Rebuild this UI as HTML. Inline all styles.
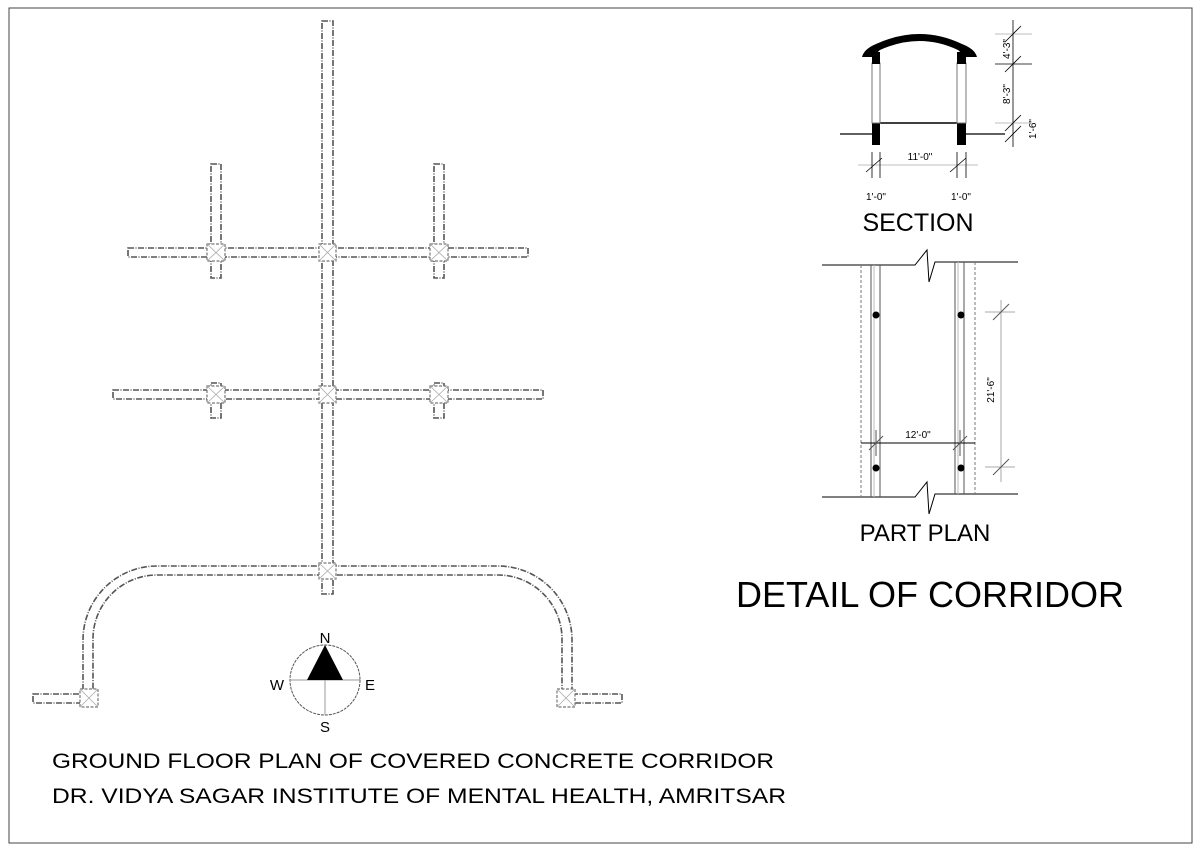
<!DOCTYPE html>
<html><head><meta charset="utf-8"><style>
html,body{margin:0;padding:0;background:#fff;}
svg{display:block;}
text{font-family:"Liberation Sans",sans-serif;fill:#000;}
</style></head><body>
<svg width="1200" height="851" viewBox="0 0 1200 851" xmlns="http://www.w3.org/2000/svg">
<rect x="9" y="8" width="1183" height="835" fill="none" stroke="#444" stroke-width="1"/>
<g fill="#fff" stroke="#555" stroke-width="1.6" stroke-dasharray="6 1.5 1 1.5">
  <rect x="322" y="21" width="11" height="573"/>
  <rect x="128" y="248" width="400" height="9"/>
  <rect x="211" y="164" width="10" height="114"/>
  <rect x="434" y="164" width="10" height="114"/>
  <rect x="113" y="390" width="430" height="9"/>
  <rect x="211" y="383" width="10" height="35"/>
  <rect x="434" y="383" width="10" height="35"/>
  <path d="M83 690 V640 A74 74 0 0 1 157 566 H498 A74 74 0 0 1 572 640 V690 H562 V640 A64 64 0 0 0 498 575 H157 A64 64 0 0 0 93 640 V690 Z"/>
  <rect x="33" y="694" width="50" height="9"/>
  <rect x="572" y="694" width="50" height="9"/>
</g>
<g fill="#fff" stroke="#777" stroke-width="1.2" stroke-dasharray="3 1.5">
  <rect x="207" y="244" width="18" height="17"/>
  <rect x="319" y="244" width="17" height="17"/>
  <rect x="430" y="244" width="18" height="17"/>
  <rect x="207" y="386" width="18" height="17"/>
  <rect x="319" y="386" width="17" height="17"/>
  <rect x="430" y="386" width="18" height="17"/>
  <rect x="319" y="563" width="17" height="16"/>
  <rect x="80" y="689" width="18" height="18"/>
  <rect x="557" y="689" width="18" height="18"/>
</g>
<g stroke="#aaa" stroke-width="0.8">
  <path d="M207 244 L225 261 M225 244 L207 261"/>
  <path d="M319 244 L336 261 M336 244 L319 261"/>
  <path d="M430 244 L448 261 M448 244 L430 261"/>
  <path d="M207 386 L225 403 M225 386 L207 403"/>
  <path d="M319 386 L336 403 M336 386 L319 403"/>
  <path d="M430 386 L448 403 M448 386 L430 403"/>
  <path d="M319 563 L336 579 M336 563 L319 579"/>
  <path d="M80 689 L98 707 M98 689 L80 707"/>
  <path d="M557 689 L575 707 M575 689 L557 707"/>
</g>
<circle cx="325" cy="680" r="35" fill="none" stroke="#555" stroke-width="1" stroke-dasharray="3 1"/>
<line x1="290" y1="680" x2="360" y2="680" stroke="#999"/>
<line x1="325" y1="680" x2="325" y2="715" stroke="#999"/>
<polygon points="325,645 307,680 343,680" fill="#000"/>
<text x="325" y="643" font-size="15" text-anchor="middle">N</text>
<text x="277" y="690" font-size="15" text-anchor="middle">W</text>
<text x="370" y="690" font-size="15" text-anchor="middle">E</text>
<text x="325" y="732" font-size="15" text-anchor="middle">S</text>
<text x="52" y="768" font-size="21" textLength="722" lengthAdjust="spacingAndGlyphs">GROUND FLOOR PLAN OF COVERED CONCRETE CORRIDOR</text>
<text x="52" y="803" font-size="21" textLength="734" lengthAdjust="spacingAndGlyphs">DR. VIDYA SAGAR INSTITUTE OF MENTAL HEALTH, AMRITSAR</text>

<g>
  <line x1="840" y1="134" x2="872" y2="134" stroke="#000" stroke-width="1.2"/>
  <line x1="966" y1="134" x2="1005" y2="134" stroke="#000" stroke-width="1.2"/>
  <line x1="880" y1="123" x2="957" y2="123" stroke="#000" stroke-width="1.5"/>
  <rect x="872" y="123" width="8" height="22" fill="#000"/>
  <rect x="957" y="123" width="9" height="22" fill="#000"/>
  <rect x="872" y="63" width="8" height="60" fill="#fff" stroke="#777" stroke-width="1"/>
  <rect x="957" y="63" width="9" height="60" fill="#fff" stroke="#777" stroke-width="1"/>
  <rect x="872" y="52" width="8" height="12" fill="#000"/>
  <rect x="957" y="52" width="9" height="12" fill="#000"/>
  <path d="M862 57 Q864 49 876 44 Q920 24 962 44 Q975 49 977 57 L966 57 L958 50 Q920 32 880 50 L872 57 Z" fill="#000"/>
  <g stroke="#000" stroke-width="0.8">
    <line x1="1013" y1="20" x2="1013" y2="147"/>
    <line x1="995" y1="34" x2="1032" y2="34" stroke="#aaa"/>
    <line x1="995" y1="64" x2="1032" y2="64"/>
    <line x1="995" y1="123" x2="1032" y2="123" stroke="#aaa"/>
    <line x1="1005" y1="42" x2="1021" y2="26"/>
    <line x1="1005" y1="72" x2="1021" y2="56"/>
    <line x1="1005" y1="131" x2="1021" y2="115"/>
    <line x1="1005" y1="142" x2="1021" y2="126"/>
    <line x1="858" y1="165" x2="978" y2="165" stroke="#aaa"/>
    <line x1="872" y1="152" x2="872" y2="178"/>
    <line x1="880" y1="152" x2="880" y2="178"/>
    <line x1="957" y1="152" x2="957" y2="178"/>
    <line x1="966" y1="152" x2="966" y2="178"/>
    <line x1="866" y1="172" x2="882" y2="158"/>
    <line x1="950" y1="172" x2="966" y2="158"/>
  </g>
  <text font-size="10" transform="translate(1010,49) rotate(-90)" text-anchor="middle">4'-3"</text>
  <text font-size="10" transform="translate(1010,94) rotate(-90)" text-anchor="middle">8'-3"</text>
  <text font-size="10" transform="translate(1036,129) rotate(-90)" text-anchor="middle">1'-6"</text>
  <text x="920" y="160" font-size="10" text-anchor="middle">11'-0"</text>
  <text x="876" y="200" font-size="10" text-anchor="middle">1'-0"</text>
  <text x="961" y="200" font-size="10" text-anchor="middle">1'-0"</text>
  <text x="918" y="231" font-size="25" text-anchor="middle">SECTION</text>
</g>

<g fill="none">
  <path d="M822 265 H915 L927 250 L929 282 L935 262 H950" stroke="#000" stroke-width="1"/>
  <path d="M950 262 H1018" stroke="#000" stroke-width="1"/>
  <path d="M822 497 H915 L927 482 L929 514 L935 494 H1018" stroke="#000" stroke-width="1"/>
  <line x1="861" y1="265" x2="861" y2="497" stroke="#777" stroke-dasharray="3 2"/>
  <line x1="975" y1="262" x2="975" y2="494" stroke="#777" stroke-dasharray="3 2"/>
  <line x1="871" y1="265" x2="871" y2="497" stroke="#555"/>
  <line x1="880" y1="265" x2="880" y2="497" stroke="#555"/>
  <line x1="874" y1="265" x2="874" y2="497" stroke="#bbb"/>
  <line x1="955" y1="262" x2="955" y2="494" stroke="#555"/>
  <line x1="964" y1="262" x2="964" y2="494" stroke="#555"/>
  <line x1="958" y1="262" x2="958" y2="494" stroke="#bbb"/>
  <line x1="861" y1="443" x2="975" y2="443" stroke="#000"/>
  <line x1="1001" y1="300" x2="1001" y2="482" stroke="#aaa"/>
  <line x1="985" y1="312" x2="1015" y2="312" stroke="#aaa"/>
  <line x1="985" y1="467" x2="1015" y2="467" stroke="#aaa"/>
  <line x1="993" y1="320" x2="1009" y2="304" stroke="#555"/>
  <line x1="993" y1="475" x2="1009" y2="459" stroke="#555"/>
  <line x1="876" y1="430" x2="876" y2="456" stroke="#555"/>
  <line x1="960" y1="430" x2="960" y2="456" stroke="#555"/>
  <line x1="869" y1="450" x2="883" y2="436" stroke="#555"/>
  <line x1="953" y1="450" x2="967" y2="436" stroke="#555"/>
</g>
<circle cx="876" cy="315" r="3.5" fill="#000"/>
<circle cx="961" cy="315" r="3.5" fill="#000"/>
<circle cx="876" cy="468" r="3.5" fill="#000"/>
<circle cx="961" cy="468" r="3.5" fill="#000"/>
<text x="918" y="438" font-size="10" text-anchor="middle">12'-0"</text>
<text font-size="10" transform="translate(994,390) rotate(-90)" text-anchor="middle">21'-6"</text>
<text x="925" y="541" font-size="24" text-anchor="middle">PART PLAN</text>
<text x="930" y="607" font-size="36" text-anchor="middle">DETAIL OF CORRIDOR</text>
</svg>
</body></html>
